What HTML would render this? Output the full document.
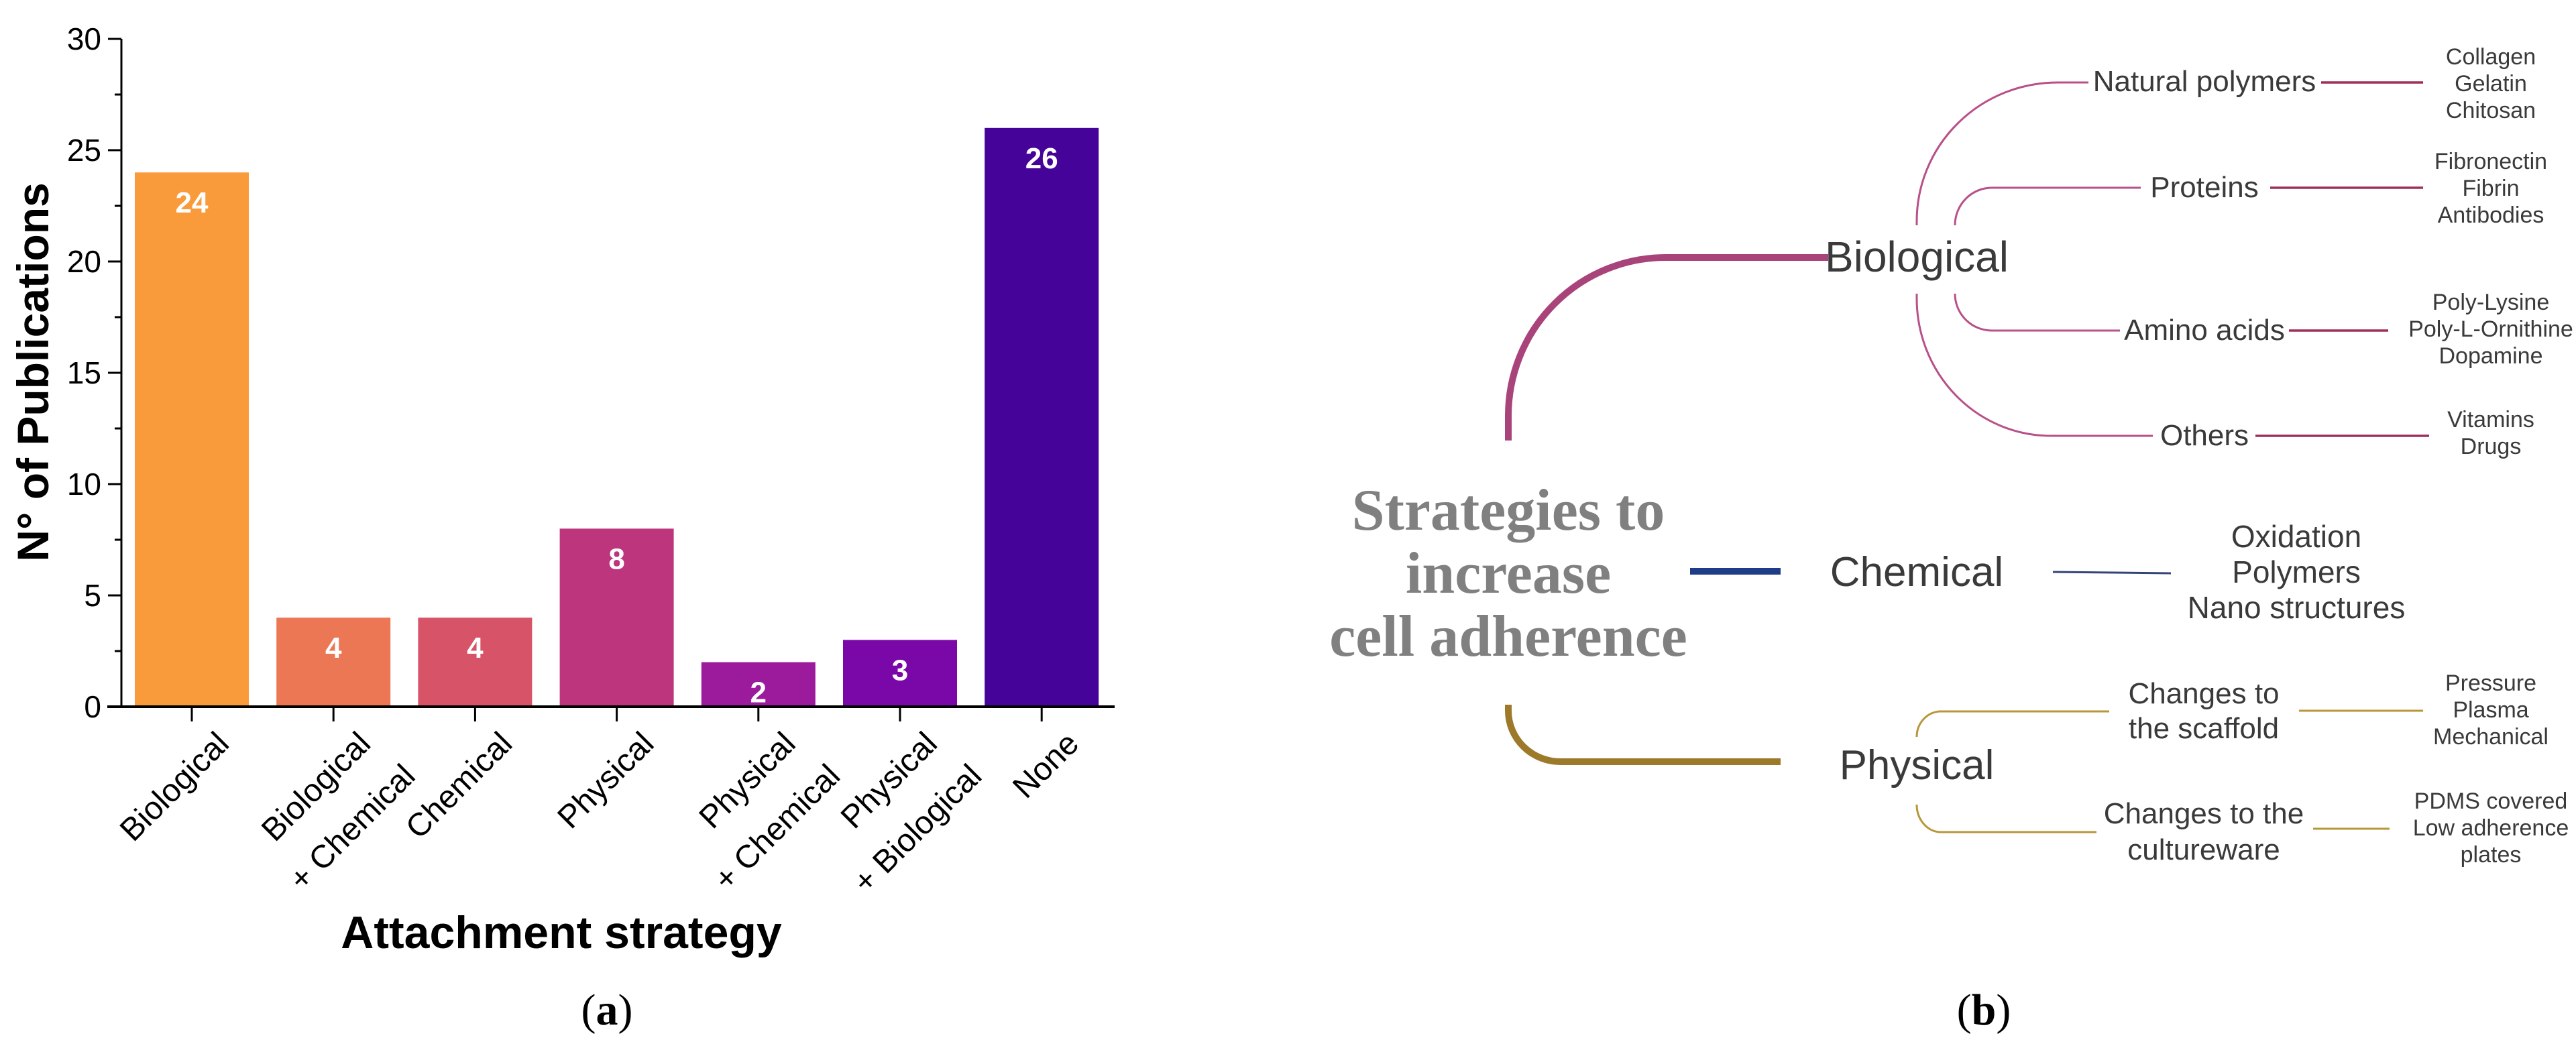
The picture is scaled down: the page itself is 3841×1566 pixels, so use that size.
<!DOCTYPE html>
<html><head><meta charset="utf-8"><style>
html,body{margin:0;padding:0;background:#fff;}
svg{display:block;font-family:"Liberation Sans",sans-serif;}
</style></head><body>
<svg id="fig" width="3841" height="1566" viewBox="0 0 3841 1566" xmlns="http://www.w3.org/2000/svg">
<g id="chart"></g>
<text x="905" y="1528" font-family="Liberation Serif,serif" font-size="66" text-anchor="middle">(<tspan font-weight="bold">a</tspan>)</text>
<text x="2958" y="1528" font-family="Liberation Serif,serif" font-size="66" text-anchor="middle">(<tspan font-weight="bold">b</tspan>)</text>

<g fill="none" stroke-linecap="butt">
  <text x="2249" y="790" font-family="Liberation Serif,serif" font-weight="bold" font-size="88" fill="#808080" stroke="none" text-anchor="middle"><tspan x="2249">Strategies to</tspan><tspan x="2249" dy="94">increase</tspan><tspan x="2249" dy="94">cell adherence</tspan></text>
  <path d="M2249 657 L2249 620 A235 236 0 0 1 2484 384 L2726 384" stroke="#A8447A" stroke-width="10"/>
  <path d="M2858 336 L2858 330 A210 207 0 0 1 3068 123 L3114 123" stroke="#B8508A" stroke-width="3"/>
  <path d="M2915 336 A55 56 0 0 1 2970 280 L3192 280" stroke="#B8508A" stroke-width="3"/>
  <path d="M2915 438 A55 55 0 0 0 2970 493 L3161 493" stroke="#B8508A" stroke-width="3"/>
  <path d="M2858 438 L2858 445 A200 205 0 0 0 3058 650 L3210 650" stroke="#B8508A" stroke-width="3"/>
  <path d="M3461 123 L3613 123 M3385 280 L3613 280 M3413 493 L3561 493 M3363 650 L3622 650" stroke="#A0305A" stroke-width="3.5"/>
  <path d="M2520 852 L2655 852" stroke="#1F3C88" stroke-width="10"/>
  <path d="M3061 853 L3237 855" stroke="#34447A" stroke-width="3"/>
  <path d="M2249 1051 L2249 1060 A78 76 0 0 0 2327 1136 L2655 1136" stroke="#9C7A2A" stroke-width="10"/>
  <path d="M2858 1099 A36 38 0 0 1 2894 1061 L3145 1061" stroke="#B8963A" stroke-width="3"/>
  <path d="M2858 1200 A36 41 0 0 0 2894 1241 L3126 1241" stroke="#B8963A" stroke-width="3"/>
  <path d="M3428 1060 L3613 1060 M3449 1236 L3563 1236" stroke="#B8963A" stroke-width="3"/>

  <g stroke="none" fill="#3a3a3a" text-anchor="middle">
    <text x="2858" y="405" font-size="64">Biological</text>
    <text x="3287" y="136" font-size="44">Natural polymers</text>
    <text x="3287" y="294" font-size="44">Proteins</text>
    <text x="3287" y="507" font-size="44">Amino acids</text>
    <text x="3287" y="664" font-size="44">Others</text>
    <g font-size="34">
      <text x="3714" y="96">Collagen</text><text x="3714" y="136">Gelatin</text><text x="3714" y="176">Chitosan</text>
      <text x="3714" y="252">Fibronectin</text><text x="3714" y="292">Fibrin</text><text x="3714" y="332">Antibodies</text>
      <text x="3714" y="462">Poly-Lysine</text><text x="3714" y="502">Poly-L-Ornithine</text><text x="3714" y="542">Dopamine</text>
      <text x="3714" y="637">Vitamins</text><text x="3714" y="677">Drugs</text>
    </g>
    <text x="2858" y="874" font-size="62">Chemical</text>
    <g font-size="46">
      <text x="3424" y="816">Oxidation</text><text x="3424" y="869">Polymers</text><text x="3424" y="922">Nano structures</text>
    </g>
    <text x="2858" y="1162" font-size="62">Physical</text>
    <text x="3286" y="1049" font-size="44"><tspan x="3286">Changes to</tspan><tspan x="3286" dy="52">the scaffold</tspan></text>
    <text x="3286" y="1228" font-size="44"><tspan x="3286">Changes to the</tspan><tspan x="3286" dy="54">cultureware</tspan></text>
    <g font-size="34">
      <text x="3714" y="1030">Pressure</text><text x="3714" y="1070">Plasma</text><text x="3714" y="1110">Mechanical</text>
      <text x="3714" y="1206">PDMS covered</text><text x="3714" y="1246">Low adherence</text><text x="3714" y="1286">plates</text>
    </g>
  </g>
</g>
</svg>
<script>
const categories = [["Biological"],["Biological","+ Chemical"],["Chemical"],["Physical"],["Physical","+ Chemical"],["Physical","+ Biological"],["None"]];
const values = [24, 4, 4, 8, 2, 3, 26];
const barColors = ["#F99B3A","#EC7755","#D75368","#BC357D","#9C1A9C","#7A07A8","#45039A"];
const yTicks = [0, 5, 10, 15, 20, 25, 30];

const NS = "http://www.w3.org/2000/svg";
const g = document.getElementById('chart');
const x0 = 181, xEnd = 1662, step = 211.2, firstC = 286, barW = 170;
const yZero = 1054, yTop = 58, yMax = 30;
function yScale(v){ return yZero - (yZero - yTop) * v / yMax; }
function xScale(i){ return firstC + i * step; }
function mk(tag, attrs){ const e = document.createElementNS(NS, tag); for (const k in attrs) e.setAttribute(k, attrs[k]); g.appendChild(e); return e; }

values.forEach((v, i) => {
  const r = mk('rect', {x: xScale(i) - barW/2, y: yScale(v), width: barW, height: yZero - yScale(v), fill: barColors[i]});
  
  
  const t = mk('text', {x: xScale(i), y: yScale(v) + 60, 'font-size': 44, 'font-weight': 'bold', fill: '#fff', 'text-anchor': 'middle'});
  t.textContent = v;
  
  
  const tk = mk('line', {x1: xScale(i), x2: xScale(i), y1: yZero, y2: yZero + 22, stroke: '#000', 'stroke-width': 3});
  
  
  const lines = categories[i];
  const lab = mk('text', {'font-size': 48, 'text-anchor': 'end', fill: '#000', transform: 'translate(' + (xScale(i) + 58) + ',' + (yZero + 58) + ') rotate(-45)'});
  
  
  lines.forEach((s, k) => {
    const ts = document.createElementNS(NS, 'tspan');
    ts.setAttribute('x', k === 0 ? 0 : 13);
    ts.setAttribute('y', k * 81);
    ts.textContent = s;
    lab.appendChild(ts);
  });
});

const ax = mk('line', {x1: x0, x2: x0, y1: yTop, y2: yZero, stroke: '#000', 'stroke-width': 3});


const axx = mk('line', {x1: 160, x2: xEnd, y1: yZero, y2: yZero, stroke: '#000', 'stroke-width': 4});


yTicks.forEach(v => {
  const l = mk('line', {x1: x0 - 20, x2: x0, y1: yScale(v), y2: yScale(v), stroke: '#000', 'stroke-width': 3});
  
  
  const t = mk('text', {x: x0 - 30, y: yScale(v) + 16, 'font-size': 46, 'text-anchor': 'end', fill: '#000'});
  t.textContent = v;
  
  
  if (v < yMax) {
    const m = mk('line', {x1: x0 - 10, x2: x0, y1: yScale(v + 2.5), y2: yScale(v + 2.5), stroke: '#000', 'stroke-width': 3});
    
    
  }
});
const yt = mk('text', {x: 0, y: 0, 'font-size': 66, 'font-weight': 'bold', 'text-anchor': 'middle', transform: 'translate(72,555) rotate(-90)'});
yt.textContent = 'N° of Publications';


const xt = mk('text', {x: 837, y: 1414, 'font-size': 68, 'font-weight': 'bold', 'text-anchor': 'middle'});
xt.textContent = 'Attachment strategy';


</script>
</body></html>
